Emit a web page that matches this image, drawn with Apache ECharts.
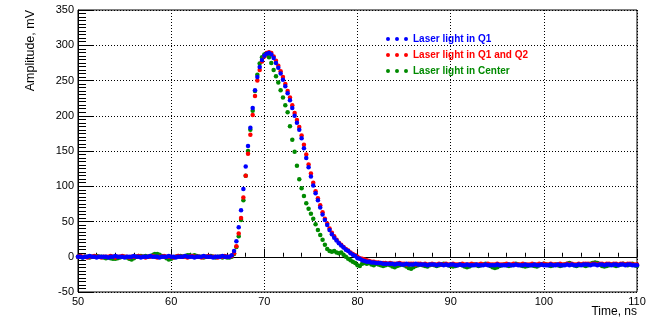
<!DOCTYPE html>
<html>
<head>
<meta charset="utf-8">
<script src="https://cdn.jsdelivr.net/npm/echarts@6/dist/echarts.min.js"></script>
<style>html,body{margin:0;padding:0;background:#fff;}#c{width:667px;height:321px;}</style>
</head>
<body>
<div id="c"></div>
<script>
// Sampling of the waveforms (ns)
const T_START = 50, T_STEP = 0.25;
const xTicks = [50, 60, 70, 80, 90, 100, 110];
const yTicks = [-50, 0, 50, 100, 150, 200, 250, 300, 350];
const seriesNames = ['Laser light in Q1', 'Laser light in Q1 and Q2', 'Laser light in Center'];
const seriesColors = ['#0000ff', '#ff0000', '#008a00'];

// Amplitude, mV — Laser light in Q1 (blue)
const q1 = [
  0,0,-1,0,0,1,0,0,-1,0,
  0,0,0,-1,0,0,1,0,0,0,
  -1,0,0,0,1,0,0,-1,0,0,
  0,1,0,0,0,-1,0,0,0,1,
  0,0,-1,0,0,0,1,0,0,0,
  -1,0,0,0,1,0,0,0,-1,0,
  0,0,1,0,0,0,
  2,8,22,42,66,96,128,157,183,211,
  236,255,269,279,285,288,289,287,282,275,
  268,260,251,242,232,222,211,200,190,180,
  168,154,140,127,114,101,90,80,70,60,
  52,45,38,32,27,23,19,16,13,10,
  8,5,3,1,-2,-3,-5,-6,-7,-7,
  -8,-8,-9,
  -9,-9,-10,-10,-10,-10,-10,-11,-10,-10,
  -11,-11,-10,-11,-11,-11,-10,-11,-11,-11,
  -11,-12,-11,-11,-11,-12,-11,-11,-12,-11,
  -12,-11,-11,-12,-12,-11,-12,-12,-11,-12,
  -12,-12,-11,-12,-12,-12,-11,-12,-12,-12,
  -12,-11,-12,-12,-12,-12,-11,-12,-12,-11,
  -12,-12,-12,-11,-12,-12,-12,-11,-12,-12,
  -11,-12,-12,-12,-11,-12,-12,-11,-12,-12,
  -12,-11,-12,-11,-12,-12,-11,-12,-11,-11,
  -11,-12,-11,-11,-12,-11,-11,-12,-11,-11,
  -12,-11,-11,-12,-11,-11,-12,-11,-11,-12,
  -12,-12
];

// Amplitude, mV — Laser light in Q1 and Q2 (red)
const q1q2 = [
  0,1,0,0,-1,0,0,1,0,0,
  -1,0,0,0,1,0,-1,0,0,1,
  0,0,-1,0,0,0,1,0,0,-1,
  0,0,1,0,-1,0,0,1,0,0,
  0,-1,0,1,0,0,0,-1,0,1,
  0,0,0,-1,0,0,1,0,0,0,
  -1,0,0,1,0,0,
  1,5,15,33,55,84,115,146,173,201,
  228,250,265,277,284,289,290,289,284,278,
  271,263,255,245,235,226,215,204,194,184,
  172,159,145,131,118,105,93,83,73,63,
  54,47,40,34,29,24,20,17,14,11,
  9,6,4,2,0,-2,-3,-4,-5,-6,
  -7,-7,-8,
  -8,-9,-9,-9,-10,-9,-10,-10,-10,-9,
  -10,-10,-11,-10,-10,-10,-11,-10,-10,-11,
  -10,-11,-11,-10,-11,-11,-10,-11,-11,-10,
  -11,-11,-10,-11,-11,-11,-10,-11,-11,-11,
  -10,-11,-11,-11,-10,-11,-11,-10,-11,-11,
  -11,-10,-11,-11,-11,-10,-11,-11,-10,-11,
  -11,-11,-10,-11,-11,-11,-10,-11,-11,-10,
  -11,-10,-11,-11,-10,-11,-11,-11,-10,-11,
  -11,-10,-11,-10,-11,-11,-10,-11,-10,-10,
  -10,-11,-10,-10,-11,-10,-10,-11,-10,-10,
  -11,-10,-10,-11,-10,-10,-11,-10,-10,-11,
  -11,-11
];

// Amplitude, mV — Laser light in Center (green)
const center = [
  0,0,-1,0,0,-1,0,0,1,0,
  0,-1,-2,-1,-2,-3,-3,-2,-1,0,
  0,-1,-3,-4,-2,0,1,1,0,1,
  0,1,2,4,4,3,1,0,-2,-4,
  -3,-1,0,1,1,0,1,2,2,1,
  2,1,0,0,-1,0,0,1,0,-1,
  0,0,-1,0,-1,-1,
  0,4,14,29,52,80,115,150,180,207,
  235,258,274,283,287,287,283,275,265,256,
  247,236,226,215,205,185,166,149,129,110,
  97,86,76,68,61,54,46,38,31,24,
  17,11,8,7,8,6,5,6,3,0,
  -3,-5,-7,-9,-12,-13,-10,-9,-10,-9,
  -11,-12,-10,
  -11,-12,-13,-12,-11,-12,-14,-15,-13,-12,
  -11,-12,-14,-16,-17,-15,-13,-12,-11,-12,
  -13,-14,-12,-11,-12,-13,-12,-11,-10,-11,
  -12,-13,-14,-13,-12,-11,-12,-14,-15,-14,
  -12,-11,-12,-13,-12,-11,-10,-11,-13,-15,
  -16,-15,-13,-12,-11,-12,-13,-12,-11,-10,
  -11,-12,-13,-14,-13,-12,-12,-13,-14,-12,
  -11,-10,-11,-12,-13,-12,-11,-12,-13,-12,
  -11,-10,-9,-11,-12,-13,-12,-11,-12,-13,
  -12,-10,-9,-8,-9,-11,-13,-14,-13,-12,
  -11,-12,-13,-12,-11,-10,-11,-12,-11,-10,
  -12,-13
];

function pairs(values) {
  return values.map((v, i) => [T_START + i * T_STEP, v]);
}

const FONT = '"Liberation Sans", Arial, sans-serif';
const dotsIcon = 'path://M0,2a2,2 0 1,0 4,0a2,2 0 1,0 -4,0zM9,2a2,2 0 1,0 4,0a2,2 0 1,0 -4,0zM18,2a2,2 0 1,0 4,0a2,2 0 1,0 -4,0z';

const chart = echarts.init(document.getElementById('c'), null, {renderer: 'canvas'});
const allData = [q1, q1q2, center];
const zs = [4, 3, 2];

chart.setOption({
  animation: false,
  backgroundColor: '#fff',
  grid: {left: 78, right: 30, top: 10, bottom: 29, show: true, borderColor: '#000', borderWidth: 1, backgroundColor: 'transparent'},
  legend: {
    orient: 'vertical',
    left: 381,
    top: 29,
    itemWidth: 22,
    itemHeight: 4,
    itemGap: 6,
    icon: dotsIcon,
    textStyle: {fontFamily: FONT, fontSize: 10, fontWeight: 'bold'},
    data: seriesNames.map((n, i) => ({name: n, textStyle: {color: seriesColors[i]}}))
  },
  xAxis: {
    type: 'value',
    min: xTicks[0], max: xTicks[xTicks.length - 1], interval: 10,
    axisLine: {show: true, lineStyle: {color: '#000', width: 1}},
    axisTick: {show: true, inside: true, length: 8, lineStyle: {color: '#000'}},
    minorTick: {show: true, splitNumber: 5, length: 4, lineStyle: {color: '#000'}},
    splitLine: {show: true, lineStyle: {color: '#000', type: [1, 2], width: 1}},
    axisLabel: {color: '#000', fontFamily: FONT, fontSize: 11, margin: 4, showMinLabel: true, showMaxLabel: true,
      customValues: xTicks},
  },
  yAxis: {
    type: 'value',
    min: yTicks[0], max: yTicks[yTicks.length - 1], interval: 50,
    axisLine: {show: true, lineStyle: {color: '#000', width: 1}},
    axisTick: {show: true, inside: true, length: 15, lineStyle: {color: '#000'}},
    minorTick: {show: true, splitNumber: 10, length: 8, lineStyle: {color: '#000'}},
    splitLine: {show: true, lineStyle: {color: '#000', type: [1, 2], width: 1}},
    axisLabel: {color: '#000', fontFamily: FONT, fontSize: 11, margin: 4, showMinLabel: true, showMaxLabel: true},
  },
  graphic: [
    {type: 'text', x: 31, y: 10, rotation: Math.PI / 2,
      style: {text: 'Amplitude, mV', fontFamily: FONT, fontSize: 12.5, fill: '#000', align: 'right', verticalAlign: 'middle'}},
    {type: 'text', x: 637, y: 312,
      style: {text: 'Time, ns', fontFamily: FONT, fontSize: 12, fill: '#000', align: 'right', verticalAlign: 'middle'}}
  ],
  series: allData.map((d, i) => ({
    name: seriesNames[i],
    type: 'scatter',
    data: pairs(d),
    symbol: 'circle',
    symbolSize: 4.5,
    z: zs[i],
    itemStyle: {color: seriesColors[i], opacity: 1},
    emphasis: {disabled: true}
  }))
});
</script>
</body>
</html>
